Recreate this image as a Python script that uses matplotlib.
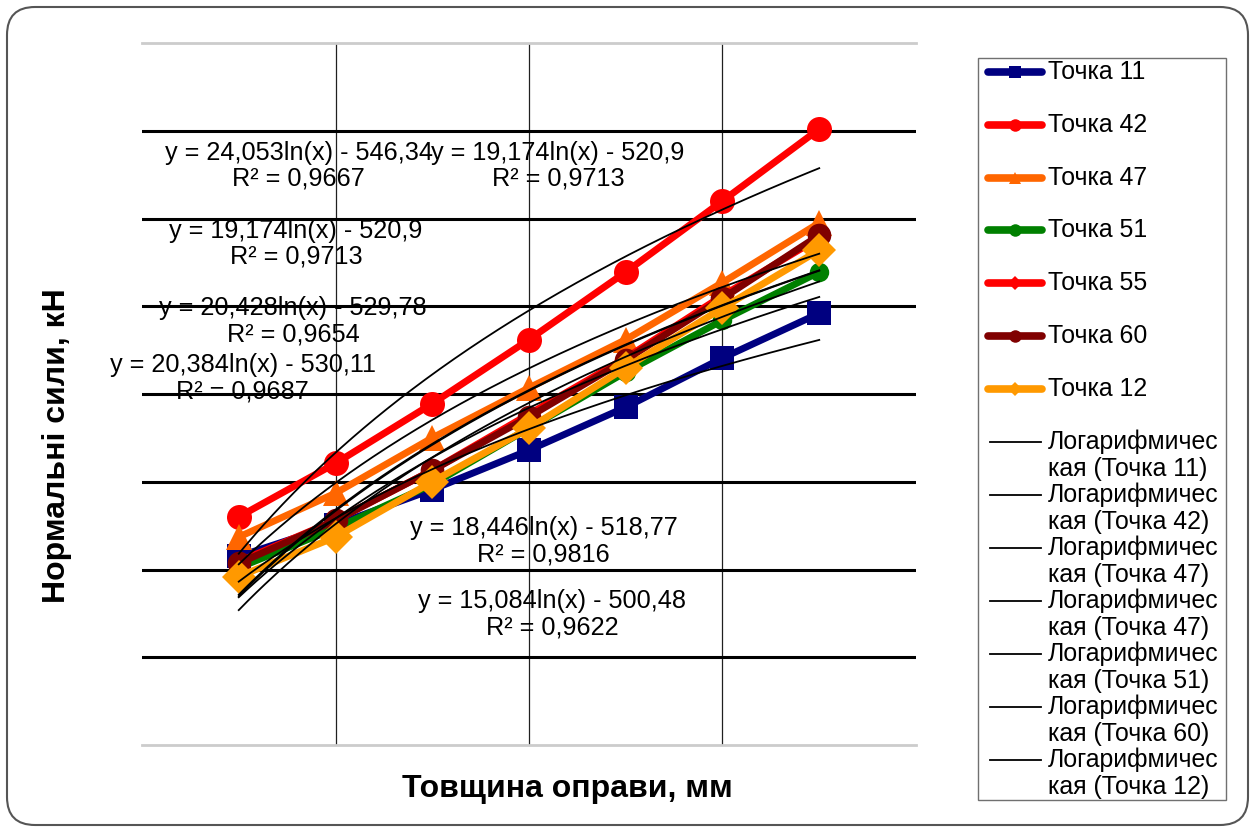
import matplotlib
matplotlib.use("Agg")
import matplotlib.pyplot as plt
from matplotlib.patches import FancyBboxPatch, Rectangle
import numpy as np

plt.rcParams['font.family'] = ['Liberation Sans', 'DejaVu Sans']

# thickness, mm (scatter x)
thickness = [30, 40, 50, 60, 70, 80, 90]

# normal forces in gridline units (no tick labels shown)
t11 = [2.15, 2.51, 2.91, 3.36, 3.85, 4.41, 4.92]
t42 = [2.60, 3.21, 3.89, 4.62, 5.39, 6.20, 7.02]
t47 = [2.37, 2.87, 3.50, 4.07, 4.62, 5.27, 5.95]
t51 = [2.02, 2.47, 2.97, 3.61, 4.25, 4.84, 5.39]
t55 = [2.09, 2.56, 3.13, 3.77, 4.41, 5.12, 5.78]
t60 = [2.07, 2.56, 3.13, 3.74, 4.39, 5.09, 5.81]
t12 = [1.92, 2.37, 3.00, 3.61, 4.30, 4.98, 5.64]

names = ["Точка 11", "Точка 42", "Точка 47", "Точка 51", "Точка 55", "Точка 60", "Точка 12"]
series = [t11, t42, t47, t51, t55, t60, t12]
colors = ["#000080", "#FF0000", "#FF6600", "#008000", "#FF0000", "#800000", "#FF9900"]
markers = ["s", "o", "^", "o", "D", "o", "D"]
msizes = [17, 18, 19, 14, 7, 17, 17]

trend_labels = ["Логарифмическая (Точка 11)", "Логарифмическая (Точка 42)",
                "Логарифмическая (Точка 47)", "Логарифмическая (Точка 47)",
                "Логарифмическая (Точка 51)", "Логарифмическая (Точка 60)",
                "Логарифмическая (Точка 12)"]
trend_series = [t11, t42, t47, t55, t51, t60, t12]

# equation labels as printed on the chart, with anchor in data coords
eq_texts = ["y = 24,053ln(x) - 546,34\nR² = 0,9667",
            "y = 19,174ln(x) - 520,9\nR² = 0,9713",
            "y = 19,174ln(x) - 520,9\nR² = 0,9713",
            "y = 20,428ln(x) - 529,78\nR² = 0,9654",
            "y = 20,384ln(x) - 530,11\nR² = 0,9687",
            "y = 18,446ln(x) - 518,77\nR² = 0,9816",
            "y = 15,084ln(x) - 500,48\nR² = 0,9622"]
eq_x = [36.2, 63.0, 35.9, 35.6, 30.4, 61.5, 62.4]
eq_y = [6.60, 6.60, 5.71, 4.83, 4.18, 2.32, 1.49]

W, H = 1255, 832
fig = plt.figure(figsize=(W / 100, H / 100), dpi=100)

# background axes in pixel coords for the rounded frame and the legend
bg = fig.add_axes([0, 0, 1, 1], zorder=0)
bg.set_xlim(0, W)
bg.set_ylim(H, 0)
bg.axis("off")
bg.add_patch(FancyBboxPatch((7, 7), W - 14, H - 14,
                            boxstyle="round,pad=0,rounding_size=28",
                            facecolor="white", edgecolor="#555555", lw=1.5))

ax = fig.add_axes([142 / W, 87 / H, 774 / W, 702 / H], zorder=1)
ax.set_facecolor("none")
ax.set_xlim(20, 100)
ax.set_ylim(0, 8)
ax.set_xticks([40, 60, 80])
ax.set_yticks(range(1, 8))
ax.tick_params(length=0, labelleft=False, labelbottom=False)
ax.grid(axis="y", color="black", lw=2.2)
ax.grid(axis="x", color="#202020", lw=0.9)
for s in ["left", "right"]:
    ax.spines[s].set_visible(False)
for s in ["top", "bottom"]:
    ax.spines[s].set_color("#cccccc")
    ax.spines[s].set_linewidth(2)

for name, ys, c, m, ms in zip(names, series, colors, markers, msizes):
    ax.plot(thickness, ys, color=c, lw=5, marker=m, markersize=ms,
            markeredgewidth=0, label=name)

lx = np.log(thickness)
xs = np.linspace(30, 90, 200)
for ys in trend_series:
    a, b = np.polyfit(lx, ys, 1)
    ax.plot(xs, a * np.log(xs) + b, color="black", lw=1.3)

for t, x0, y0 in zip(eq_texts, eq_x, eq_y):
    ax.text(x0, y0, t, ha="center", va="center", fontsize=18.2, linespacing=1.1)

ax.set_xlabel("Товщина оправи, мм", fontsize=23, fontweight="bold")
ax.xaxis.set_label_coords(0.549, -0.041)
ax.set_ylabel("Нормальні сили, кН", fontsize=23, fontweight="bold")
ax.yaxis.set_label_coords(-0.091, 0.427)

# legend drawn by hand (two-line trendline entries)
bg.add_patch(Rectangle((978, 58), 248, 742, facecolor="white", edgecolor="#707070", lw=1))
for i, (name, c, m) in enumerate(zip(names, colors, markers)):
    yy = 72 + 52.8 * i
    bg.plot([988, 1042], [yy, yy], color=c, lw=5.5, solid_capstyle="round")
    bg.plot([1015], [yy], color=c, marker=m, markersize=9 if m != "D" else 7,
            markeredgewidth=0)
    bg.text(1048, yy, name, ha="left", va="center", fontsize=17.9)
for j, lab in enumerate(trend_labels):
    yy = 442 + 53 * j
    bg.plot([990, 1041], [yy, yy], color="black", lw=1.3)
    bg.text(1048, yy, lab[:12], ha="left", va="center", fontsize=17.9)
    bg.text(1048, yy + 27, lab[12:], ha="left", va="center", fontsize=17.9)

fig.savefig("out.png", dpi=100)
